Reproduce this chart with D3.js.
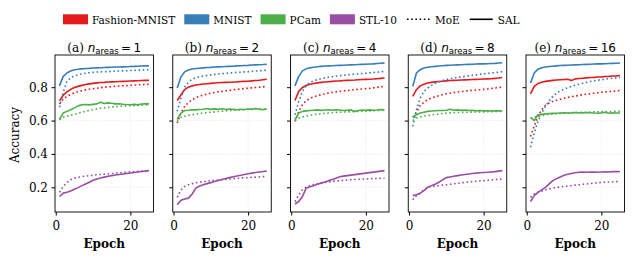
<!DOCTYPE html>
<html>
<head>
<meta charset="utf-8">
<script src="https://cdn.jsdelivr.net/npm/d3@7"></script>
<style>
  body { margin: 0; background: #fff; }
  text { font-family: "DejaVu Serif", serif; }
</style>
</head>
<body>
<div id="my_dataviz"></div>
<script>

// epochs on the x axis
var epochs = [1,2,3,4,5,6,7,8,9,10,11,12,13,14,15,16,17,18,19,20,21,22,23,24,25];

// panels
var panelLetters = ["a", "b", "c", "d", "e"];
var nAreas = [1, 2, 4, 8, 16];

// datasets and colours
var datasets = ["Fashion-MNIST", "MNIST", "PCam", "STL-10"];
var colors = ["#e41a1c", "#377eb8", "#4daf4a", "#984ea3"];

var yTicks = [0.2, 0.4, 0.6, 0.8];
var xTicks = [0, 20];

// ---- accuracy, one array per panel / dataset / method (SAL solid, MoE dotted)
// panel (a) n_areas = 1
var a_fashion_sal = [0.718,0.752,0.772,0.787,0.798,0.805,0.811,0.816,0.820,0.823,0.826,0.828,0.829,0.831,0.832,0.833,0.834,0.835,0.836,0.837,0.838,0.839,0.840,0.841,0.842];
var a_fashion_moe = [0.700,0.728,0.745,0.757,0.766,0.773,0.779,0.784,0.788,0.791,0.794,0.797,0.800,0.802,0.804,0.806,0.807,0.809,0.810,0.811,0.813,0.814,0.815,0.816,0.818];
var a_mnist_sal = [0.808,0.865,0.885,0.897,0.905,0.908,0.910,0.912,0.913,0.915,0.916,0.917,0.918,0.919,0.920,0.921,0.921,0.922,0.923,0.924,0.925,0.926,0.927,0.928,0.929];
var a_mnist_moe = [0.680,0.770,0.835,0.855,0.868,0.875,0.880,0.884,0.887,0.889,0.891,0.892,0.893,0.894,0.895,0.896,0.897,0.898,0.899,0.900,0.901,0.902,0.903,0.904,0.905];
var a_pcam_sal = [0.608,0.645,0.655,0.665,0.676,0.688,0.695,0.696,0.694,0.697,0.700,0.710,0.702,0.706,0.704,0.700,0.701,0.698,0.696,0.695,0.697,0.694,0.699,0.701,0.700];
var a_pcam_moe = [0.605,0.620,0.626,0.632,0.637,0.643,0.650,0.656,0.661,0.665,0.669,0.673,0.676,0.679,0.681,0.683,0.685,0.687,0.688,0.689,0.690,0.691,0.692,0.693,0.695];
var a_stl_sal = [0.145,0.165,0.170,0.178,0.188,0.198,0.210,0.220,0.230,0.242,0.250,0.256,0.261,0.266,0.270,0.274,0.277,0.280,0.283,0.286,0.289,0.292,0.295,0.297,0.300];
var a_stl_moe = [0.170,0.205,0.228,0.245,0.255,0.260,0.264,0.267,0.270,0.272,0.275,0.277,0.279,0.281,0.283,0.285,0.287,0.289,0.291,0.293,0.294,0.296,0.297,0.299,0.300];

// panel (b) n_areas = 2
var b_fashion_sal = [0.720,0.755,0.785,0.800,0.808,0.813,0.816,0.819,0.821,0.823,0.825,0.827,0.828,0.829,0.830,0.831,0.832,0.834,0.835,0.836,0.838,0.840,0.842,0.845,0.848];
var b_fashion_moe = [0.585,0.645,0.685,0.708,0.725,0.737,0.746,0.753,0.759,0.764,0.768,0.772,0.775,0.778,0.781,0.784,0.787,0.789,0.792,0.794,0.796,0.798,0.800,0.802,0.805];
var b_mnist_sal = [0.795,0.862,0.892,0.903,0.909,0.912,0.914,0.916,0.918,0.919,0.921,0.922,0.923,0.924,0.925,0.926,0.928,0.929,0.930,0.931,0.933,0.934,0.935,0.936,0.938];
var b_mnist_moe = [0.655,0.735,0.800,0.830,0.848,0.857,0.863,0.867,0.871,0.874,0.877,0.879,0.881,0.883,0.885,0.887,0.889,0.890,0.892,0.893,0.895,0.897,0.898,0.900,0.902];
var b_pcam_sal = [0.610,0.645,0.660,0.662,0.665,0.664,0.666,0.668,0.672,0.667,0.670,0.668,0.671,0.666,0.669,0.667,0.665,0.668,0.666,0.669,0.667,0.672,0.668,0.665,0.670];
var b_pcam_moe = [0.600,0.620,0.626,0.631,0.635,0.639,0.642,0.645,0.647,0.650,0.652,0.654,0.656,0.658,0.660,0.661,0.663,0.664,0.666,0.667,0.668,0.670,0.672,0.667,0.672];
var b_stl_sal = [0.095,0.122,0.130,0.135,0.160,0.195,0.208,0.215,0.222,0.228,0.235,0.241,0.247,0.253,0.258,0.263,0.268,0.272,0.277,0.281,0.285,0.289,0.292,0.295,0.298];
var b_stl_moe = [0.140,0.185,0.205,0.215,0.222,0.227,0.231,0.234,0.237,0.240,0.242,0.244,0.246,0.248,0.250,0.252,0.254,0.255,0.257,0.258,0.260,0.261,0.262,0.264,0.265];

// panel (c) n_areas = 4
var c_fashion_sal = [0.720,0.775,0.798,0.810,0.818,0.822,0.826,0.829,0.831,0.833,0.835,0.837,0.838,0.840,0.841,0.842,0.843,0.845,0.846,0.847,0.848,0.849,0.851,0.853,0.855];
var c_fashion_moe = [0.595,0.655,0.695,0.718,0.733,0.742,0.749,0.755,0.760,0.765,0.769,0.772,0.775,0.778,0.780,0.783,0.785,0.787,0.789,0.791,0.793,0.796,0.799,0.802,0.805];
var c_mnist_sal = [0.808,0.865,0.898,0.910,0.916,0.920,0.923,0.925,0.927,0.928,0.929,0.930,0.931,0.932,0.933,0.934,0.935,0.936,0.937,0.938,0.939,0.940,0.942,0.944,0.946];
var c_mnist_moe = [0.635,0.715,0.775,0.808,0.828,0.838,0.845,0.851,0.856,0.860,0.863,0.866,0.869,0.871,0.874,0.876,0.878,0.880,0.882,0.884,0.886,0.888,0.890,0.892,0.895];
var c_pcam_sal = [0.605,0.645,0.655,0.658,0.660,0.662,0.664,0.661,0.663,0.665,0.662,0.664,0.663,0.660,0.662,0.664,0.655,0.660,0.663,0.661,0.664,0.662,0.663,0.666,0.665];
var c_pcam_moe = [0.600,0.615,0.622,0.627,0.631,0.635,0.638,0.641,0.643,0.645,0.647,0.649,0.650,0.651,0.652,0.653,0.654,0.655,0.656,0.657,0.658,0.659,0.660,0.660,0.661];
var c_stl_sal = [0.100,0.115,0.145,0.195,0.203,0.210,0.218,0.225,0.232,0.240,0.247,0.255,0.263,0.267,0.270,0.273,0.276,0.279,0.282,0.285,0.288,0.291,0.294,0.297,0.300];
var c_stl_moe = [0.115,0.155,0.185,0.200,0.210,0.216,0.221,0.225,0.229,0.232,0.235,0.238,0.240,0.242,0.244,0.246,0.247,0.248,0.249,0.250,0.251,0.252,0.253,0.254,0.255];

// panel (d) n_areas = 8
var d_fashion_sal = [0.745,0.785,0.808,0.818,0.825,0.829,0.832,0.834,0.836,0.838,0.840,0.841,0.842,0.843,0.844,0.845,0.846,0.847,0.848,0.849,0.850,0.851,0.853,0.855,0.858];
var d_fashion_moe = [0.620,0.650,0.690,0.710,0.725,0.735,0.743,0.749,0.755,0.760,0.764,0.768,0.771,0.774,0.777,0.779,0.781,0.783,0.785,0.787,0.789,0.792,0.795,0.798,0.800];
var d_mnist_sal = [0.805,0.885,0.905,0.915,0.920,0.923,0.925,0.927,0.929,0.931,0.932,0.933,0.934,0.935,0.936,0.937,0.938,0.939,0.940,0.940,0.941,0.942,0.943,0.945,0.947];
var d_mnist_moe = [0.565,0.665,0.735,0.775,0.795,0.810,0.822,0.832,0.840,0.846,0.851,0.855,0.859,0.862,0.865,0.868,0.871,0.874,0.877,0.880,0.882,0.885,0.887,0.890,0.893];
var d_pcam_sal = [0.620,0.635,0.645,0.650,0.655,0.657,0.659,0.660,0.660,0.662,0.668,0.662,0.664,0.661,0.663,0.660,0.661,0.659,0.660,0.658,0.659,0.657,0.658,0.658,0.657];
var d_pcam_moe = [0.600,0.615,0.622,0.627,0.630,0.634,0.637,0.640,0.642,0.645,0.646,0.647,0.648,0.649,0.650,0.650,0.651,0.651,0.652,0.652,0.653,0.653,0.654,0.654,0.655];
var d_stl_sal = [0.150,0.155,0.165,0.180,0.200,0.210,0.218,0.230,0.245,0.258,0.262,0.266,0.270,0.274,0.277,0.280,0.283,0.285,0.287,0.289,0.290,0.292,0.294,0.297,0.300];
var d_stl_moe = [0.125,0.150,0.165,0.185,0.200,0.204,0.207,0.210,0.213,0.215,0.218,0.221,0.224,0.227,0.230,0.232,0.234,0.236,0.238,0.240,0.242,0.244,0.246,0.248,0.250];

// panel (e) n_areas = 16
var e_fashion_sal = [0.760,0.805,0.822,0.830,0.835,0.838,0.841,0.843,0.845,0.846,0.847,0.840,0.850,0.852,0.854,0.856,0.858,0.859,0.861,0.862,0.864,0.865,0.867,0.868,0.870];
var e_fashion_moe = [0.505,0.565,0.625,0.665,0.690,0.705,0.715,0.722,0.728,0.734,0.739,0.743,0.747,0.751,0.755,0.758,0.761,0.764,0.767,0.770,0.772,0.774,0.776,0.778,0.780];
var e_mnist_sal = [0.825,0.885,0.908,0.917,0.921,0.924,0.926,0.928,0.930,0.931,0.932,0.933,0.934,0.935,0.936,0.937,0.938,0.939,0.940,0.940,0.941,0.942,0.943,0.944,0.945];
var e_mnist_moe = [0.440,0.525,0.595,0.645,0.685,0.718,0.745,0.765,0.778,0.788,0.797,0.805,0.812,0.818,0.824,0.829,0.834,0.838,0.842,0.845,0.848,0.851,0.854,0.856,0.858];
var e_pcam_sal = [0.620,0.600,0.635,0.638,0.640,0.642,0.643,0.644,0.645,0.646,0.645,0.646,0.648,0.647,0.646,0.648,0.647,0.645,0.644,0.646,0.650,0.644,0.646,0.645,0.645];
var e_pcam_moe = [0.615,0.620,0.626,0.630,0.634,0.637,0.639,0.641,0.643,0.645,0.646,0.647,0.648,0.649,0.650,0.650,0.651,0.652,0.652,0.653,0.654,0.654,0.655,0.655,0.655];
var e_stl_sal = [0.115,0.150,0.170,0.185,0.200,0.220,0.240,0.252,0.262,0.272,0.278,0.283,0.287,0.290,0.291,0.290,0.291,0.292,0.290,0.292,0.293,0.292,0.294,0.294,0.295];
var e_stl_moe = [0.140,0.160,0.170,0.178,0.185,0.190,0.195,0.199,0.202,0.205,0.208,0.210,0.213,0.215,0.218,0.220,0.222,0.225,0.227,0.229,0.231,0.232,0.233,0.234,0.235];

// group per panel: [dataset][0 = SAL, 1 = MoE]
var panels = [
  [[a_fashion_sal, a_fashion_moe], [a_mnist_sal, a_mnist_moe], [a_pcam_sal, a_pcam_moe], [a_stl_sal, a_stl_moe]],
  [[b_fashion_sal, b_fashion_moe], [b_mnist_sal, b_mnist_moe], [b_pcam_sal, b_pcam_moe], [b_stl_sal, b_stl_moe]],
  [[c_fashion_sal, c_fashion_moe], [c_mnist_sal, c_mnist_moe], [c_pcam_sal, c_pcam_moe], [c_stl_sal, c_stl_moe]],
  [[d_fashion_sal, d_fashion_moe], [d_mnist_sal, d_mnist_moe], [d_pcam_sal, d_pcam_moe], [d_stl_sal, d_stl_moe]],
  [[e_fashion_sal, e_fashion_moe], [e_mnist_sal, e_mnist_moe], [e_pcam_sal, e_pcam_moe], [e_stl_sal, e_stl_moe]]
];

// set the dimensions of the figure and the panels
var W = 634, H = 260;
var panelLeft = 55, panelStep = 117.75, panelW = 98.5;
var panelTop = 55, panelBottom = 212;
var fs = 12;

var svg = d3.select("#my_dataviz")
  .append("svg")
    .attr("width", W)
    .attr("height", H);

svg.append("rect").attr("width", W).attr("height", H).attr("fill", "#fff");

// shared scales
var x = d3.scaleLinear().domain([-0.2, 26.2]).range([0, panelW]);
var y = d3.scaleLinear().domain([0.052, 0.993]).range([panelBottom - panelTop, 0]);

var line = d3.line()
  .x(function(d, i) { return x(epochs[i]); })
  .y(function(d) { return y(d); });

for (let p = 0; p < panels.length; p++) {

  var g = svg.append("g")
    .attr("transform", "translate(" + (panelLeft + p * panelStep) + "," + panelTop + ")");

  // grid
  g.append("g").selectAll("line.gy")
    .data(yTicks).enter().append("line")
      .attr("x1", 0).attr("x2", panelW)
      .attr("y1", function(d) { return y(d); })
      .attr("y2", function(d) { return y(d); })
      .attr("stroke", "#e6e6e6").attr("stroke-width", 0.6)
      .attr("stroke-dasharray", "2,1.5");
  g.append("g").selectAll("line.gx")
    .data(xTicks).enter().append("line")
      .attr("y1", 0).attr("y2", panelBottom - panelTop)
      .attr("x1", function(d) { return x(d); })
      .attr("x2", function(d) { return x(d); })
      .attr("stroke", "#e6e6e6").attr("stroke-width", 0.6)
      .attr("stroke-dasharray", "2,1.5");

  // lines: MoE dotted and SAL solid
  for (let k = 0; k < datasets.length; k++) {
    g.append("path")
      .datum(panels[p][k][1])
      .attr("fill", "none")
      .attr("stroke", colors[k])
      .attr("stroke-width", 1.6)
      .attr("stroke-dasharray", "1.6,2.6")
      .attr("d", line);
    g.append("path")
      .datum(panels[p][k][0])
      .attr("fill", "none")
      .attr("stroke", colors[k])
      .attr("stroke-width", 1.6)
      .attr("stroke-linejoin", "round")
      .attr("d", line);
  }

  // Add X axis
  var xAxis = g.append("g")
    .attr("transform", "translate(0," + (panelBottom - panelTop) + ")")
    .call(d3.axisBottom(x).tickValues(xTicks).tickSize(3.5).tickPadding(6).tickSizeOuter(0));
  xAxis.select(".domain").remove();
  xAxis.selectAll("text").attr("font-family", "DejaVu Serif").attr("font-size", fs).attr("fill", "#000");

  // Add Y axis (labels only on the first panel)
  var yAxis = g.append("g")
    .call(d3.axisLeft(y).tickValues(yTicks).tickSize(3.5).tickPadding(3.5)
      .tickFormat(p == 0 ? d3.format(".1f") : function() { return ""; }));
  yAxis.select(".domain").remove();
  yAxis.selectAll("text").attr("font-family", "DejaVu Serif").attr("font-size", fs).attr("fill", "#000");

  // frame
  g.append("rect")
    .attr("width", panelW).attr("height", panelBottom - panelTop)
    .attr("fill", "none").attr("stroke", "#000").attr("stroke-width", 0.9);

  // title
  var t = g.append("text")
    .attr("x", panelW / 2).attr("y", -3.5)
    .attr("text-anchor", "middle")
    .attr("font-size", fs);
  t.append("tspan").text("(" + panelLetters[p] + ") ");
  t.append("tspan").attr("font-family", "DejaVu Sans").attr("font-style", "italic").text("n");
  t.append("tspan").attr("font-family", "DejaVu Sans").attr("font-size", 8.5).attr("dy", 2.5).text("areas");
  t.append("tspan").attr("font-family", "DejaVu Sans").attr("dy", -2.5).text("\u2009=\u2009" + nAreas[p]);

  // x label
  g.append("text")
    .attr("x", panelW / 2).attr("y", 193)
    .attr("text-anchor", "middle")
    .attr("font-size", fs).attr("font-weight", "bold")
    .text("Epoch");
}

// y label
svg.append("text")
  .attr("transform", "translate(19," + 135 + ") rotate(-90)")
  .attr("text-anchor", "middle")
  .attr("font-size", fs)
  .text("Accuracy");

// legend
var legend = svg.append("g").attr("transform", "translate(63,0)");
var lx = 0;
var items = datasets.map(function(d, i) { return { label: d, color: colors[i], kind: "patch" }; });
items.push({ label: "MoE", color: "#000", kind: "dot" });
items.push({ label: "SAL", color: "#000", kind: "solid" });

for (let i = 0; i < items.length; i++) {
  var it = items[i];
  if (it.kind == "patch") {
    legend.append("rect").attr("x", lx).attr("y", 14.3).attr("width", 25).attr("height", 10).attr("fill", it.color);
  } else {
    legend.append("line").attr("x1", lx + 1).attr("x2", lx + 24).attr("y1", 19.3).attr("y2", 19.3)
      .attr("stroke", it.color).attr("stroke-width", 1.6)
      .attr("stroke-dasharray", it.kind == "dot" ? "1.6,2.6" : null);
  }
  var txt = legend.append("text")
    .attr("x", lx + 29).attr("y", 23.5)
    .attr("font-size", 10.5)
    .text(it.label);
  lx = lx + 29 + txt.node().getComputedTextLength() + 9;
}

</script>
</body>
</html>
